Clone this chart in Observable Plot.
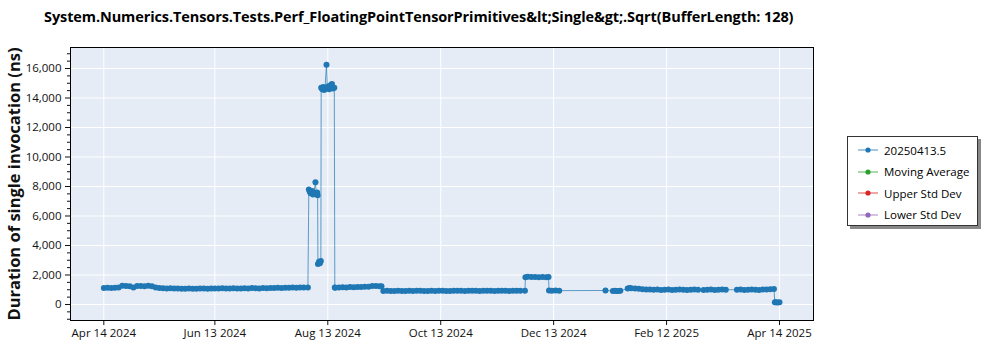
<!DOCTYPE html>
<html>
<head>
<meta charset="utf-8">
<script src="https://cdn.jsdelivr.net/npm/d3@7"></script>
<script src="https://cdn.jsdelivr.net/npm/@observablehq/plot@0.6"></script>
<style>
  html, body { margin: 0; padding: 0; background: #fff; }
  #wrap { position: relative; width: 1000px; height: 350px; overflow: hidden; font-family: "Open Sans", sans-serif; }
  #chart { position: absolute; left: 0; top: 0; }
  #title { position: absolute; left: 44px; top: 7px; font-weight: bold; font-size: 14.5px; color: #000; white-space: nowrap; letter-spacing: -0.1px; }
  #legend { position: absolute; left: 847px; top: 136px; width: 131px; height: 90px; border: 1px solid #333; background: #fff; box-shadow: 3px 3px 0 #888; box-sizing: border-box; }
  .lg { position: absolute; left: 10px; height: 16px; display: flex; align-items: center; font-size: 11.5px; color: #000; white-space: nowrap; }
  .lg svg { margin-right: 6px; }
  g[aria-label="y-axis label"] text { font-weight: bold; font-size: 16.5px; }
</style>
</head>
<body>
<div id="wrap">
  <div id="chart"></div>
  <div id="title"></div>
  <div id="legend"></div>
</div>
<script>
const titleText = "System.Numerics.Tensors.Tests.Perf_FloatingPointTensorPrimitives&lt;Single&gt;.Sqrt(BufferLength: 128)";
const yLabel = "Duration of single invocation (ns)";
const seriesNames = ["20250413.5", "Moving Average", "Upper Std Dev", "Lower Std Dev"];
const seriesColors = ["#1f77b4", "#2ca02c", "#d62728", "#9467bd"];

const xTickDates = ["2024-04-14", "2024-06-13", "2024-08-13", "2024-10-13", "2024-12-13", "2025-02-12", "2025-04-14"];
const yTicks = [0, 2000, 4000, 6000, 8000, 10000, 12000, 14000, 16000];
const yMinorTicks = [-1000, -500, 500, 1000, 1500, 2500, 3000, 3500, 4500, 5000, 5500, 6500, 7000, 7500, 8500, 9000, 9500, 10500, 11000, 11500, 12500, 13000, 13500, 14500, 15000, 15500, 16500, 17000];

const dates = [
  "2024-04-14","2024-04-16","2024-04-18","2024-04-20","2024-04-22","2024-04-24","2024-04-26","2024-04-28","2024-04-30",
  "2024-05-02","2024-05-04","2024-05-06","2024-05-08","2024-05-10","2024-05-12","2024-05-14","2024-05-16","2024-05-18",
  "2024-05-20","2024-05-22","2024-05-24","2024-05-26","2024-05-28","2024-05-30","2024-06-01","2024-06-03","2024-06-05",
  "2024-06-07","2024-06-09","2024-06-11","2024-06-13","2024-06-15","2024-06-17","2024-06-19","2024-06-21","2024-06-23",
  "2024-06-25","2024-06-27","2024-06-29","2024-07-01","2024-07-03","2024-07-05","2024-07-07","2024-07-09","2024-07-11",
  "2024-07-13","2024-07-15","2024-07-17","2024-07-19","2024-07-21","2024-07-23","2024-07-25","2024-07-27","2024-07-29",
  "2024-07-31","2024-08-02T06:00Z",
  "2024-08-02T18:00Z","2024-08-03T06:00Z","2024-08-03T18:00Z","2024-08-04T12:00Z","2024-08-05T00:00Z","2024-08-05T12:00Z",
  "2024-08-06T08:00Z","2024-08-06T18:00Z","2024-08-07T06:00Z","2024-08-07T12:00Z",
  "2024-08-07T16:00Z","2024-08-08T06:00Z","2024-08-08T18:00Z","2024-08-09T06:00Z",
  "2024-08-09T10:00Z","2024-08-10T00:00Z","2024-08-10T12:00Z","2024-08-11T00:00Z","2024-08-11T12:00Z","2024-08-12T07:00Z",
  "2024-08-12T18:00Z","2024-08-13T06:00Z","2024-08-13T18:00Z","2024-08-14T06:00Z","2024-08-14T18:00Z","2024-08-15T06:00Z",
  "2024-08-15T18:00Z","2024-08-16T12:00Z","2024-08-16T19:00Z",
  "2024-08-17","2024-08-19","2024-08-21","2024-08-23","2024-08-25","2024-08-27","2024-08-29","2024-08-31","2024-09-02",
  "2024-09-04","2024-09-06","2024-09-08","2024-09-10","2024-09-11",
  "2024-09-12","2024-09-14","2024-09-16","2024-09-18","2024-09-20","2024-09-22","2024-09-24","2024-09-26","2024-09-28",
  "2024-09-30","2024-10-02","2024-10-04","2024-10-06","2024-10-08","2024-10-10","2024-10-12","2024-10-14","2024-10-16",
  "2024-10-18","2024-10-20","2024-10-22","2024-10-24","2024-10-26","2024-10-28","2024-10-30","2024-11-01","2024-11-03",
  "2024-11-05","2024-11-07","2024-11-09","2024-11-11","2024-11-13","2024-11-15","2024-11-17","2024-11-19","2024-11-21",
  "2024-11-23","2024-11-25","2024-11-27T12:00Z",
  "2024-11-27T18:00Z","2024-11-29","2024-12-01","2024-12-03","2024-12-05","2024-12-07","2024-12-09","2024-12-10T06:00Z",
  "2024-12-10T12:00Z","2024-12-12","2024-12-14","2024-12-16",
  "2025-01-10","2025-01-14","2025-01-15","2025-01-16","2025-01-17","2025-01-18",
  "2025-01-22","2025-01-23","2025-01-24","2025-01-26","2025-01-28","2025-01-30","2025-02-01","2025-02-03","2025-02-05",
  "2025-02-07","2025-02-09","2025-02-11","2025-02-13","2025-02-15","2025-02-17","2025-02-19","2025-02-21","2025-02-23",
  "2025-02-25","2025-02-27","2025-03-01","2025-03-04","2025-03-06","2025-03-08","2025-03-10","2025-03-12","2025-03-14",
  "2025-03-16","2025-03-22","2025-03-24","2025-03-26","2025-03-28","2025-03-30","2025-04-01","2025-04-03","2025-04-05",
  "2025-04-07","2025-04-09","2025-04-11T00:00Z",
  "2025-04-11T12:00Z","2025-04-12","2025-04-13","2025-04-14"
];
const values = [
  1120,1130,1110,1140,1160,1270,1250,1230,1150,
  1260,1250,1240,1270,1230,1160,1120,1100,1090,
  1100,1080,1090,1070,1060,1080,1070,1060,1080,
  1090,1070,1080,1090,1080,1100,1090,1080,1100,
  1090,1080,1100,1090,1110,1100,1090,1110,1100,
  1120,1110,1130,1120,1140,1130,1150,1140,1160,
  1150,1150,
  7800,7650,7550,7700,7450,7600,
  8290,7500,7600,7400,
  2750,2900,2800,2950,
  14700,14600,14750,14550,14700,16250,
  14650,14800,14600,14700,14900,14950,
  14650,14700,1150,
  1140,1160,1170,1150,1180,1170,1190,1180,1200,
  1210,1260,1250,1240,1230,
  920,930,910,920,930,920,910,930,920,
  940,930,920,910,930,920,940,930,920,
  910,930,940,930,920,930,940,930,920,
  930,940,930,920,930,940,930,920,930,
  940,930,930,
  1850,1880,1860,1870,1850,1860,1840,1870,
  950,940,950,940,
  950,920,930,910,920,930,
  1080,1120,1100,1080,1060,1040,1020,1010,1000,
  1010,990,1000,1010,990,1000,1010,1000,990,
  1000,1010,1000,990,1000,1010,990,1000,1010,
  1000,1000,1010,990,1000,1010,1000,990,1010,
  1020,1030,1050,
  150,150,140,160
];

const data = dates.map((d, i) => ({date: new Date(d), value: values[i]}));
const xTicks = xTickDates.map(d => new Date(d));

const chart = Plot.plot({
  width: 1000,
  height: 350,
  marginLeft: 70,
  marginRight: 187,
  marginTop: 47,
  marginBottom: 30,
  style: {fontFamily: "'Open Sans', sans-serif", fontSize: "11.5px", color: "#111", background: "transparent", overflow: "visible"},
  x: {type: "utc", domain: [new Date("2024-03-27T00:00Z"), new Date("2025-05-02T09:00Z")]},
  y: {domain: [-1085, 17424]},
  marks: [
    Plot.frame({fill: "#e5ecf6", stroke: null}),
    Plot.gridX(xTicks, {stroke: "#fff", strokeOpacity: 1, strokeWidth: 1}),
    Plot.gridY(yTicks, {stroke: "#fff", strokeOpacity: 1, strokeWidth: 1}),
    Plot.axisX(xTicks, {tickFormat: d3.utcFormat("%b %d %Y"), tickSize: 5, tickPadding: 3, label: null}),
    Plot.axisY(yTicks, {tickFormat: d3.format(","), tickSize: 5, tickPadding: 4, label: yLabel, labelAnchor: "center", labelArrow: "none", labelOffset: 62}),
    Plot.axisY(yMinorTicks, {tickSize: 3, tickFormat: () => "", label: null, ariaLabel: "y-minor"}),
    Plot.line(data, {x: "date", y: "value", stroke: seriesColors[0], strokeWidth: 1, strokeOpacity: 0.7}),
    Plot.dot(data, {x: "date", y: "value", r: 3, fill: seriesColors[0], stroke: null}),
    Plot.frame({stroke: "#000", strokeWidth: 1})
  ]
});
// remove the empty labels of the minor tick axis
chart.querySelectorAll("text").forEach(t => { if (t.textContent === "") t.remove(); });
document.getElementById("chart").appendChild(chart);
document.getElementById("title").textContent = titleText;

const legend = document.getElementById("legend");
seriesNames.forEach((name, i) => {
  const row = document.createElement("div");
  row.className = "lg";
  row.style.top = (5 + i * 21.5) + "px";
  const c = seriesColors[i];
  row.innerHTML = `<svg width="20" height="10"><line x1="0" y1="5" x2="20" y2="5" stroke="${c}" stroke-width="1" stroke-opacity="0.8"/><circle cx="10" cy="5" r="2.6" fill="${c}"/></svg>`;
  const span = document.createElement("span");
  span.textContent = name;
  row.appendChild(span);
  legend.appendChild(row);
});
</script>
</body>
</html>
